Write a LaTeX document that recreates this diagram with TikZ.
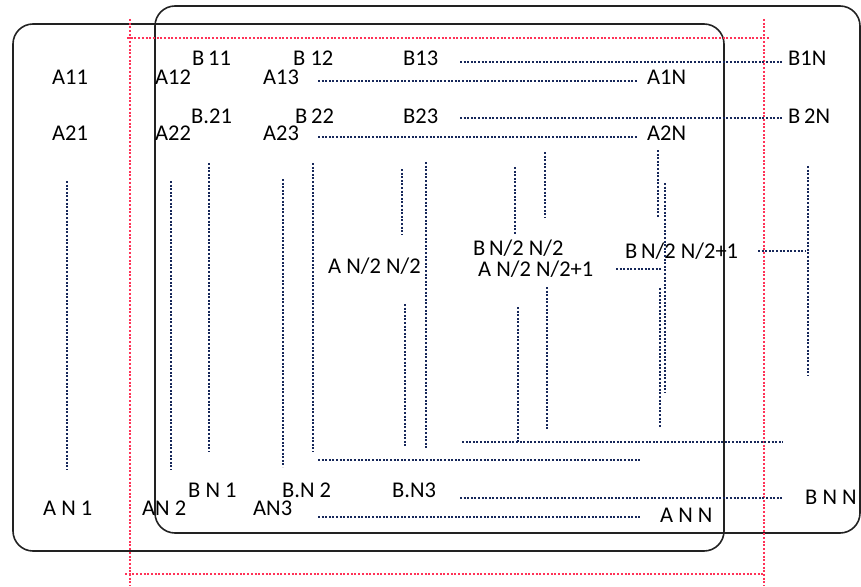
\documentclass[tikz,border=0pt]{standalone}
\usepackage{fontspec}
\setmainfont{Carlito}
\usetikzlibrary{positioning}
\definecolor{matDot}{HTML}{17285A}
\definecolor{matRed}{HTML}{FF3358}
\definecolor{matFrame}{HTML}{222222}

\begin{document}
\begin{tikzpicture}[x=1pt, y=-1pt, font=\fontsize{22.5}{26}\selectfont,
    lbl/.style={inner sep=0pt, anchor=base west, text=black},
    dots/.style={matDot, line width=2.7pt, dash pattern=on 2pt off 1.6pt},
    reddots/.style={matRed, line width=2.8pt, dash pattern=on 2pt off 1.7pt},
    frame/.style={matFrame, line width=1.6pt, rounded corners=20pt}]
  \useasboundingbox (0,0) rectangle (861,586);

  % the two matrices
  \draw[frame] (13,24) rectangle (724,551);
  \draw[frame] (155,6) rectangle (860,533);

  % red window
  \draw[reddots] (130,19) -- (130,586);
  \draw[reddots] (764,19) -- (764,586);
  \draw[reddots] (127,38) -- (770,38);
  \draw[reddots] (125,574) -- (764,574);

  % entries
  \foreach \nm/\txt/\x/\y in {%
      a11/A11/52/84, a12/A12/155/84, a13/A13/263/84, a1n/A1N/647/84,
      a21/A21/52/140, a22/A22/155/140, a23/A23/263/140, a2n/A2N/647/140,
      b11/{B\,11}/192/66, b12/{B 12}/293/66, b13/B13/403/66, b1n/B1N/788/66,
      b21/{B.21}/191/123, b22/{B\,22}/295/123, b23/B23/403/123, b2n/{B\,2N}/788/123,
      amid/{A N/2 N/2}/328/273, bmid/{B\,N/2 N/2}/473/255,
      amidp/{A N/2 N/2+1}/478/276, bmidp/{B\,N/2 N/2+1}/625/258,
      an1/{A N 1}/43/515, an2/{AN 2}/142/515, an3/AN3/253/515, ann/{A N N}/660/522,
      bn1/{B N 1}/188/497, bn2/{B.N 2}/282/497, bn3/{B.N3}/392/497, bnn/{B N N}/805/504%
    } {
    \node[lbl] (\nm) at (\x,\y) {\txt};
  }

  % columns
  \foreach \x/\ya/\yb in {%
      67/181/470, 171/181/470, 209/163/452, 283/179/467, 313/163/452,
      402/169/235, 405/304/447, 426/162/448,
      515/167/235, 518/307/443, 545/152/217, 547/287/430,
      658/150/217, 665/183/393, 660/288/428, 808/166/376%
    } {
    \draw[dots] (\x,\ya) -- (\x,\yb);
  }

  % rows
  \foreach \xa/\xb/\y in {%
      460/782/62, 318/637/81, 460/782/118, 318/637/137,
      318/640/460, 462/783/442, 616/662/269, 758/805/251,
      460/783/498, 318/640/517%
    } {
    \draw[dots] (\xa,\y) -- (\xb,\y);
  }
\end{tikzpicture}
\end{document}
